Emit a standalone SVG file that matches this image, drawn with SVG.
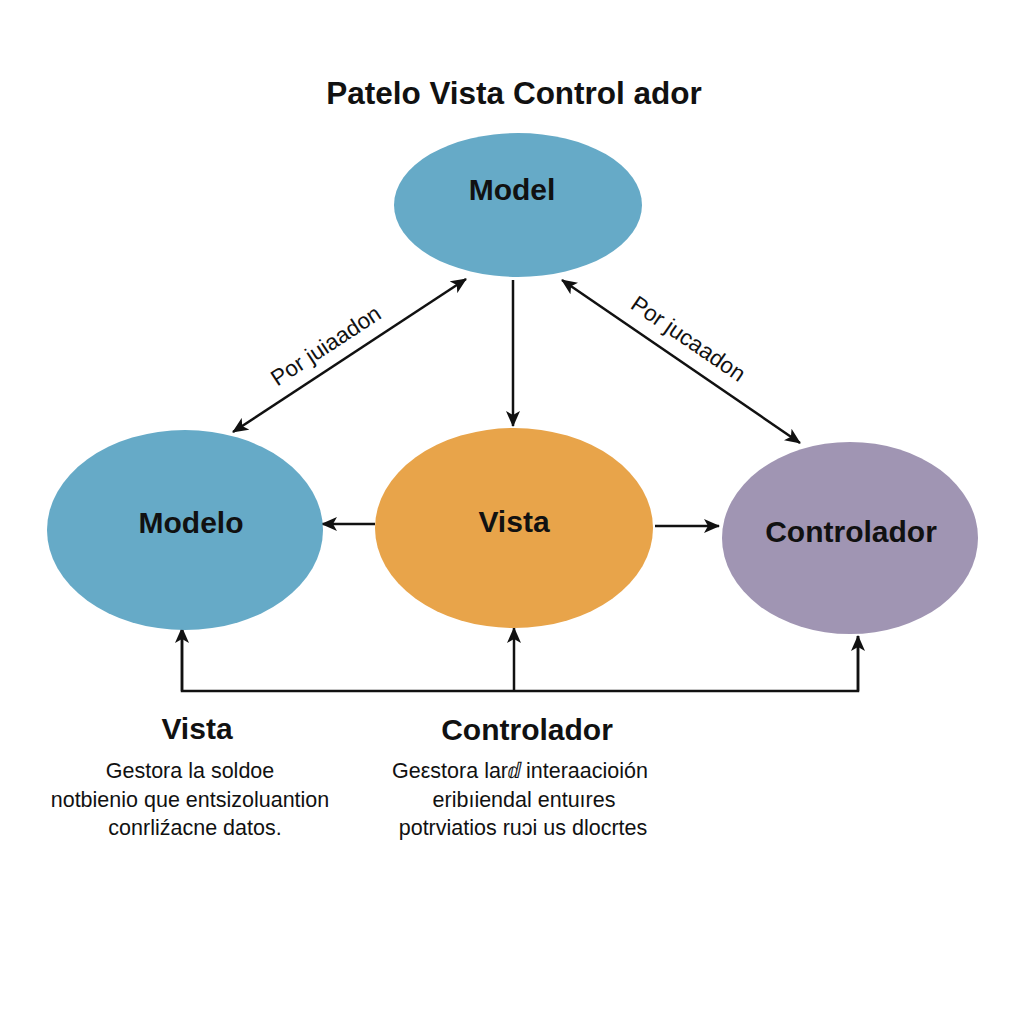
<svg xmlns="http://www.w3.org/2000/svg" width="1024" height="1024" viewBox="0 0 1024 1024">
<style>
.t{font-family:"Liberation Sans",Arial,sans-serif;fill:#111}
.b{font-weight:bold}
.c{stroke:#111;stroke-width:2.5;fill:none}
</style>
<defs>
<marker id="ah" viewBox="0 0 16 14" refX="15" refY="7" markerWidth="16" markerHeight="14" markerUnits="userSpaceOnUse" orient="auto-start-reverse">
<path d="M0,0 L16,7 L0,14 L4,7 Z" fill="#111"/>
</marker>
</defs>
<rect width="1024" height="1024" fill="#fff"/>
<text class="t b" x="514" y="104" font-size="31.5" text-anchor="middle">Patelo Vista Control ador</text>
<g id="connectors">
<line class="c" x1="233" y1="432" x2="466" y2="279" marker-start="url(#ah)" marker-end="url(#ah)"/>
<line class="c" x1="562" y1="280" x2="800" y2="443" marker-start="url(#ah)" marker-end="url(#ah)"/>
<line class="c" x1="513" y1="280" x2="513" y2="426" marker-end="url(#ah)"/>
<line class="c" x1="375" y1="524" x2="322" y2="524" marker-end="url(#ah)"/>
<line class="c" x1="655" y1="526" x2="719" y2="526" marker-end="url(#ah)"/>
<polyline class="c" points="182,628 182,691 858,691 858,636"/>
<line class="c" x1="182" y1="691" x2="182" y2="628" marker-end="url(#ah)"/>
<line class="c" x1="514" y1="691" x2="514" y2="628" marker-end="url(#ah)"/>
<line class="c" x1="858" y1="691" x2="858" y2="636" marker-end="url(#ah)"/>
<text class="t" font-size="22.5" text-anchor="middle" transform="translate(330,352) rotate(-33.3)">Por juiaadon</text>
<text class="t" font-size="22.5" text-anchor="middle" transform="translate(684,345) rotate(34.4)">Por jucaadon</text>
</g>
<g id="model">
<ellipse cx="518" cy="205" rx="124" ry="72" fill="#66aac7"/>
<text class="t b" x="512" y="200" font-size="30" text-anchor="middle">Model</text>
</g>
<g id="modelo">
<ellipse cx="185" cy="530" rx="138" ry="100" fill="#66aac7"/>
<text class="t b" x="191" y="533" font-size="30" text-anchor="middle">Modelo</text>
</g>
<g id="vista">
<ellipse cx="514" cy="528" rx="139" ry="100" fill="#e8a44a"/>
<text class="t b" x="514" y="532" font-size="30" text-anchor="middle">Vista</text>
</g>
<g id="controlador">
<ellipse cx="850" cy="538" rx="128" ry="96" fill="#a095b3"/>
<text class="t b" x="851" y="542" font-size="30" text-anchor="middle">Controlador</text>
</g>
<g id="vista-desc">
<text class="t b" x="197" y="739" font-size="30" text-anchor="middle">Vista</text>
<text class="t" font-size="21.5" text-anchor="middle">
<tspan x="193" y="778">Gestora la  soldoe</tspan>
<tspan x="193" y="807">notbienio que entsizoluantion</tspan>
<tspan x="195" y="835">conrliźacne datos.</tspan>
</text>
</g>
<g id="controlador-desc">
<text class="t b" x="527" y="740" font-size="30" text-anchor="middle">Controlador</text>
<text class="t" font-size="21.5" text-anchor="middle">
<tspan x="523" y="778">Geεstora larⅆ interaacioión</tspan>
<tspan x="527" y="807">eribıiendal entuıres</tspan>
<tspan x="523" y="835">potrviatios ruɔi us dlocrtes</tspan>
</text>
</g>
</svg>
